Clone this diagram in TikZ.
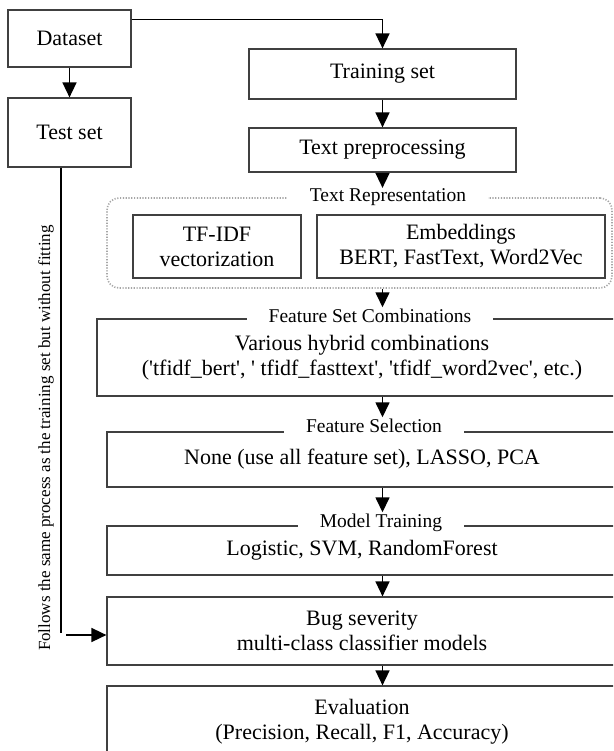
\documentclass[tikz,border=0pt]{standalone}
\usepackage{fontspec}
\setmainfont{LiberationSerif}[Extension=.ttf, UprightFont=*-Regular, BoldFont=*-Bold, ItalicFont=*-Italic, BoldItalicFont=*-BoldItalic]
\usetikzlibrary{arrows.meta,calc}
\newcommand{\sq}{\textquotesingle}
\begin{document}
\begin{tikzpicture}[x=1pt,y=1pt,
  box/.style={draw=black!75, line width=1.2pt, inner sep=0pt, align=center, font=\rmfamily\fontsize{22}{25}\selectfont},
  lab/.style={fill=white, inner xsep=22pt, inner ysep=1pt, text depth=5pt, anchor=base, font=\rmfamily\fontsize{19.5}{22}\selectfont},
  arr/.style={draw=black, line width=1.6pt, -{Triangle[length=15pt,width=14pt]}},
  ln/.style={draw=black, line width=1.6pt},
  dots/.style={draw=black!35, line width=1.6pt, dash pattern=on 1.2pt off 1.6pt, rounded corners=12pt}]
\clip (0,0) rectangle (613,-751);
\fill[white] (0,0) rectangle (613,-751);

% left column
\node[box, minimum width=123, minimum height=57] (dataset) at (69.5,-38.5) {Dataset};
\node[box, minimum width=123, minimum height=69] (test) at (69.5,-132.5) {Test set};

% top right
\node[box, minimum width=267, minimum height=50] (train) at (382.5,-74) {Training set};
\node[box, minimum width=267, minimum height=44] (prep) at (382.5,-150) {Text preprocessing};

% text representation group
\node[dots, minimum width=505, minimum height=90] (rep) at (359.5,-243) {};
\node[box, minimum width=168, minimum height=63] (tfidf) at (217,-246.5) {TF-IDF\\vectorization};
\node[box, minimum width=288, minimum height=63] (emb) at (461,-246.5) {Embeddings\\BERT, FastText, Word2Vec};
\node[lab] (replab) at (388,-202) {Text Representation};

% big boxes
\node[box, minimum width=530, minimum height=77] (fsc) at (362,-357.5) {Various hybrid combinations\\(\sq tfidf\_bert\sq, \sq\ tfidf\_fasttext\sq, \sq tfidf\_word2vec\sq, etc.)};
\node[lab] (fsclab) at (370,-322) {Feature Set Combinations};

\node[box, minimum width=510, minimum height=55] (fsel) at (362,-459.5) {None (use all feature set), LASSO, PCA};
\node[lab] (fsellab) at (374,-432) {Feature Selection};

\node[box, minimum width=510, minimum height=49] (mt) at (362,-550.5) {Logistic, SVM, RandomForest};
\node[lab] (mtlab) at (381,-527) {Model Training};

\node[box, minimum width=510, minimum height=68] (bug) at (362,-631) {Bug severity\\multi-class classifier models};
\node[box, minimum width=510, minimum height=71] (eval) at (362,-721.5) {Evaluation\\(Precision, Recall, F1, Accuracy)};

% vertical note
\node[rotate=90, anchor=base, font=\rmfamily\fontsize{17}{20}\selectfont] (note) at (50,-438) {Follows the same process as the training set but without fitting};

% connectors
\draw[arr] (dataset.south) -- (test.north);
\draw[arr] ($(dataset.north east)+(0,-10)$) -| (train.north);
\draw[arr] (train.south) -- (prep.north);
\draw[arr] (prep.south) -- (prep.south |- replab.north);
\draw[arr] (rep.south -| train.south) -- (fsclab.north -| train.south);
\draw[arr] (fsc.south -| train.south) -- (fsellab.north -| train.south);
\draw[arr] (fsel.south -| train.south) -- (mtlab.north -| train.south);
\draw[arr] (mt.south -| train.south) -- (bug.north -| train.south);
\draw[arr] (bug.south -| train.south) -- (eval.north -| train.south);

\coordinate (lineend) at (61,-633);
\coordinate (arrstart) at (66,-635);
\draw[ln] (test.south -| lineend) -- (lineend);
\draw[arr] (arrstart) -- (arrstart -| bug.west);
\end{tikzpicture}
\end{document}
